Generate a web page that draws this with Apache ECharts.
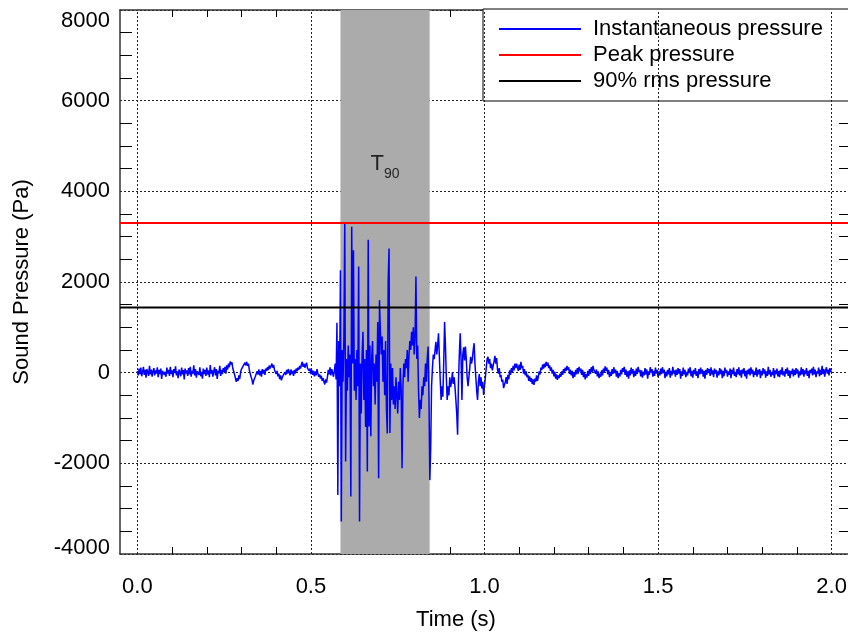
<!DOCTYPE html>
<html><head><meta charset="utf-8">
<script src="https://cdn.jsdelivr.net/npm/echarts@6/dist/echarts.min.js"></script>
<style>html,body{margin:0;padding:0;background:#fff}#c{width:848px;height:634px}</style>
</head><body><div id="c"></div>
<script>
// ---- data ----
const sampleStep = 0.0025; // s between samples
const quietStart = 0;      // s
const quietValues = [
40,-60,90,-30,110,-80,20,130,-50,60,-110,80,10,-70,150,-40,70,-90,30,100,
-60,50,-20,120,-100,60,-30,90,-140,40,80,-50,20,-90,110,-20,60,-70,130,-30,
50,-100,80,-10,140,-60,30,-120,70,10,-80,110,-40,60,-150,90,-20,50,-70,100,
-40,130,-90,40,-20,160,-60,80,-110,30,70,-50,120,-80,20,-130,90,-30,60,-70,
110,-40,50,-100,170,-20,60,-90,30,120,-60,80,-140,40,-10,150,-70,60,-30,100,
20,130,-20,160,70,200,120,250,180,230,90,120,-40,-80,-200,-120,-180,-60,-140,20,
80,40,150,110,220,160,240,150,200,60,80,-90,-150,-260,-180,-220,-80,-120,30,-40,
70,-60,40,-90,80,-20,60,-50,90,40,120,60,160,90,140,200,110,170,60,100,
-30,40,-80,-20,-140,-60,-170,-100,-60,-130,10,-50,60,-20,80,10,-60,70,-30,40,
-70,60,-20,90,30,110,60,150,90,180,240,130,200,110,170,220,100,140,40,90,
-30,60,-50,40,-80,30,-60,80,-20,-90,-40,-130,-70,-180,-120,-200,-260,-150,-220,-100,
60,-40,120,-60,80,100,-90,40,200,-150
];
const burstStart = 0.575;  // s
const burstValues = [
1100,-2700,700,-300,2260,-3285,500,-200,800,3300,
-1960,300,-400,600,-100,400,-2730,3220,200,2700,
-400,300,-600,500,-300,2340,-3285,200,-900,400,
900,-600,300,-1200,500,-2180,2930,-1190,600,-1400,
300,700,-300,200,-700,400,-200,1120,-2330,1600,
900,400,800,-200,500,-500,700,-800,-1340,2000,
2740,-1330,200,-600,100,-700,-300,-800,-100,-500,
-900,-200,-600,100,-400,-2110,-300,200,-100,300,
100,500,-200,400,700,500,900,600,1000,400,
800,2120,300,600,-400,-1000,-600,-800,-300,-500,
-100,-300,200,-200,300,575,-500,-2370,-1660,-300,
100,400,300,300,680,400,600,870,350,-160,
-600,-300,-530,200,1120,600,-100,-600,-300,-500,
-100,-320,-200,0,-250,-100,-320,-600,-900,-1370,
-200,400,870,300,-600,400,560,270,575,300,
-100,-300,-100,100,350,200,300,500,650,200,
-100,-400,-600,-200,-30,-300,-100,-350,-200,-490,
-300,-100,100,300,350,200,300,100,200,50,
150,250,370,200,320,70,-20,100,-100,-50,
-200,-150,-340,-380,-200,-100,-250,-50,-150,50,
-50,100,0,150,50,200,100,200,120,40,
180,60,240,100,150,-20,80,-60,30,-100,
-50,-180,-80,-200,-120,-250,-150,-270,-130,-200
];
const tailStart = 1.15;    // s
const tailValues = [
-60,-180,-90,30,-40,110,60,180,90,200,120,240,150,220,100,160,40,120,-20,60,
-80,20,-130,-40,-160,-60,-120,-20,-90,30,-50,80,-10,110,40,150,60,120,-30,70,
-60,40,-120,10,-90,60,-40,100,-20,130,30,90,-50,60,-100,20,-150,-30,-110,40,
-70,80,-30,120,10,150,60,100,-20,70,-80,30,-120,-20,-90,50,-60,90,0,140,
40,110,-40,60,-100,20,-70,80,-30,120,-10,70,-90,40,-120,-10,-80,60,-40,100,
20,130,-50,70,-90,30,-130,50,-60,110,-20,80,-100,40,-70,90,-30,130,10,60,
-80,50,-110,20,-60,100,-40,70,-130,30,-50,120,0,80,-90,40,-70,110,-20,60,
-100,30,-60,90,-30,120,-10,70,-120,20,-80,60,-40,100,-110,40,-60,130,-20,50,
-90,70,-50,100,-20,80,-130,30,-70,110,-40,60,-100,20,-60,90,-10,120,-80,40,
-110,60,-30,100,-70,30,-120,80,-40,110,-20,70,-90,40,-130,60,-50,100,-10,80,
-70,120,-40,50,-100,90,-20,60,-110,30,-60,100,-30,70,-120,40,-80,110,-10,60,
-90,30,-50,90,-120,60,-30,110,-70,20,-100,80,-40,120,-60,50,-110,70,-20,100,
-80,40,-130,60,-30,90,-60,120,-20,70,-100,30,-50,110,-90,60,-40,80,-120,40,
-60,100,-20,70,-110,30,-70,130,-40,60,-90,20,-50,100,-120,50,-30,90,-80,40,
-100,60,-40,120,-60,30,-90,80,-20,110,-70,50,-120,40,-30,90,-80,60,-50,100,
-20,70,-110,30,-60,120,-40,80,-90,50,-30,100,-70,40,-120,60,-10,90,-60,130,
-40,70,-100,30,-20,110,-80,60,-50,150,-30,80,-90,40,120,-20,70,-60,100,20,
40
];
const peakPressure = 3300;  // Pa
const rmsPressure = 1440;   // Pa
const t90Start = 0.585;     // s
const t90End = 0.842;       // s
const t90LabelPressure = 4600;
const xMin = -0.05, xMax = 2.05;
const yMin = -4000, yMax = 8000, yStep = 2000;
const xLabelValues = [0, 0.5, 1.0, 1.5, 2.0];
const xMinorTickValues = [0.1,0.2,0.3,0.4,0.6,0.7,0.8,0.9,1.1,1.2,1.3,1.4,1.6,1.7,1.8,1.9];
const seriesNames = ['Instantaneous pressure', 'Peak pressure', '90% rms pressure'];

// ---- build ----
function toPoints(start, vals) { return vals.map((v, k) => [start + k * sampleStep, v]); }
const signal = [].concat(toPoints(quietStart, quietValues), toPoints(burstStart, burstValues), toPoints(tailStart, tailValues));

const FONT = '"Liberation Sans", Arial, Helvetica, sans-serif';
const chart = echarts.init(document.getElementById('c'), null, { renderer: 'canvas' });
const dotted = { color: '#222', width: 1, type: [2, 2] };

chart.setOption({
  animation: false,
  backgroundColor: '#fff',
  textStyle: { fontFamily: FONT },
  grid: { left: 120, top: 10, width: 729, height: 544, containLabel: false, outerBoundsMode: 'none' },
  legend: {
    data: seriesNames,
    orient: 'vertical',
    left: 483, top: 9,
    padding: [9, 40, 9, 15],
    itemWidth: 82, itemHeight: 20, itemGap: 4,
    itemStyle: { opacity: 0 },
    backgroundColor: '#fff', borderColor: '#000', borderWidth: 1, borderRadius: 0,
    textStyle: { fontFamily: FONT, fontSize: 22, color: '#000', lineHeight: 20, padding: [0, 0, 0, 7] },
    selectedMode: false
  },
  xAxis: [{
    type: 'value', position: 'bottom', min: xMin, max: xMax,
    name: 'Time (s)', nameLocation: 'middle', nameGap: 55,
    nameTextStyle: { fontFamily: FONT, fontSize: 22, color: '#000', padding: [0, 57, 0, 0] },
    axisLine: { show: true, onZero: false, lineStyle: { color: '#333', width: 1.5 } },
    axisTick: { show: true, inside: true, length: 7, customValues: xMinorTickValues, lineStyle: { color: '#000' } },
    axisLabel: { customValues: xLabelValues, margin: 22, fontFamily: FONT, fontSize: 22, color: '#000',
      formatter: v => v.toFixed(1) },
    splitLine: { show: false }
  }, {
    type: 'value', position: 'top', min: xMin, max: xMax,
    axisLine: { show: true, onZero: false, lineStyle: { color: '#333', width: 1.5 } },
    axisTick: { show: true, inside: true, length: 7, customValues: xMinorTickValues, lineStyle: { color: '#000' } },
    axisLabel: { show: false },
    splitLine: { show: false }
  }],
  yAxis: [{
    type: 'value', position: 'left', min: yMin, max: yMax, interval: yStep,
    name: 'Sound Pressure (Pa)', nameLocation: 'middle', nameGap: 87,
    nameTextStyle: { fontFamily: FONT, fontSize: 22, color: '#000' },
    axisLine: { show: true, onZero: false, lineStyle: { color: '#333', width: 1.5 } },
    axisTick: { show: false, inside: true },
    minorTick: { show: true, splitNumber: 4, length: 12, lineStyle: { color: '#000', width: 1 } },
    axisLabel: { margin: 10, fontFamily: FONT, fontSize: 22, color: '#000',
      verticalAlignMaxLabel: 'top',
      formatter: v => (v === yMin ? '{low|' + v + '}' : String(v)),
      rich: { low: { fontFamily: FONT, fontSize: 22, color: '#000', padding: [0, 0, 12, 0] } } },
    splitLine: { show: true, lineStyle: dotted }
  }, {
    type: 'value', position: 'right', min: yMin, max: yMax, interval: yStep,
    axisLine: { show: true, onZero: false, lineStyle: { color: '#333', width: 1.5 } },
    axisTick: { show: false, inside: true },
    minorTick: { show: true, splitNumber: 4, length: 10, lineStyle: { color: '#000', width: 1 } },
    axisLabel: { show: false },
    splitLine: { show: false }
  }],
  series: [
    {
      name: 'bandAndGrid', type: 'line', data: [], z: 2, silent: true,
      markArea: { silent: true, itemStyle: { color: '#ababab', opacity: 1 },
        data: [[{ xAxis: t90Start, yAxis: yMin }, { xAxis: t90End, yAxis: yMax }]] },
      markLine: { silent: true, symbol: 'none', label: { show: false }, lineStyle: dotted,
        data: xLabelValues.map(v => ({ xAxis: v })) }
    },
    {
      name: seriesNames[0], type: 'line', data: signal, z: 3,
      symbol: 'none', showSymbol: false, sampling: null,
      lineStyle: { color: '#0000ff', width: 1.5 }, itemStyle: { color: '#0000ff' }
    },
    {
      name: seriesNames[1], type: 'line', z: 4, symbol: 'none',
      data: [[xMin, peakPressure], [xMax, peakPressure]],
      lineStyle: { color: '#ff0000', width: 2 }, itemStyle: { color: '#ff0000' }
    },
    {
      name: seriesNames[2], type: 'line', z: 4, symbol: 'none',
      data: [[xMin, rmsPressure], [xMax, rmsPressure]],
      lineStyle: { color: '#000000', width: 2 }, itemStyle: { color: '#000000' }
    },
    {
      name: 'T90 label', type: 'scatter', z: 5, silent: true,
      data: [[(t90Start + t90End) / 2, t90LabelPressure]],
      symbolSize: 1, itemStyle: { color: 'rgba(0,0,0,0)' },
      label: { show: true, position: 'inside', formatter: '{t|T}{s|90}',
        rich: {
          t: { fontFamily: FONT, fontSize: 22, lineHeight: 22, color: '#000', verticalAlign: 'top' },
          s: { fontFamily: FONT, fontSize: 14, lineHeight: 14, color: '#000', verticalAlign: 'top', padding: [14, 0, 0, 0] }
        } }
    }
  ]
});
</script></body></html>
